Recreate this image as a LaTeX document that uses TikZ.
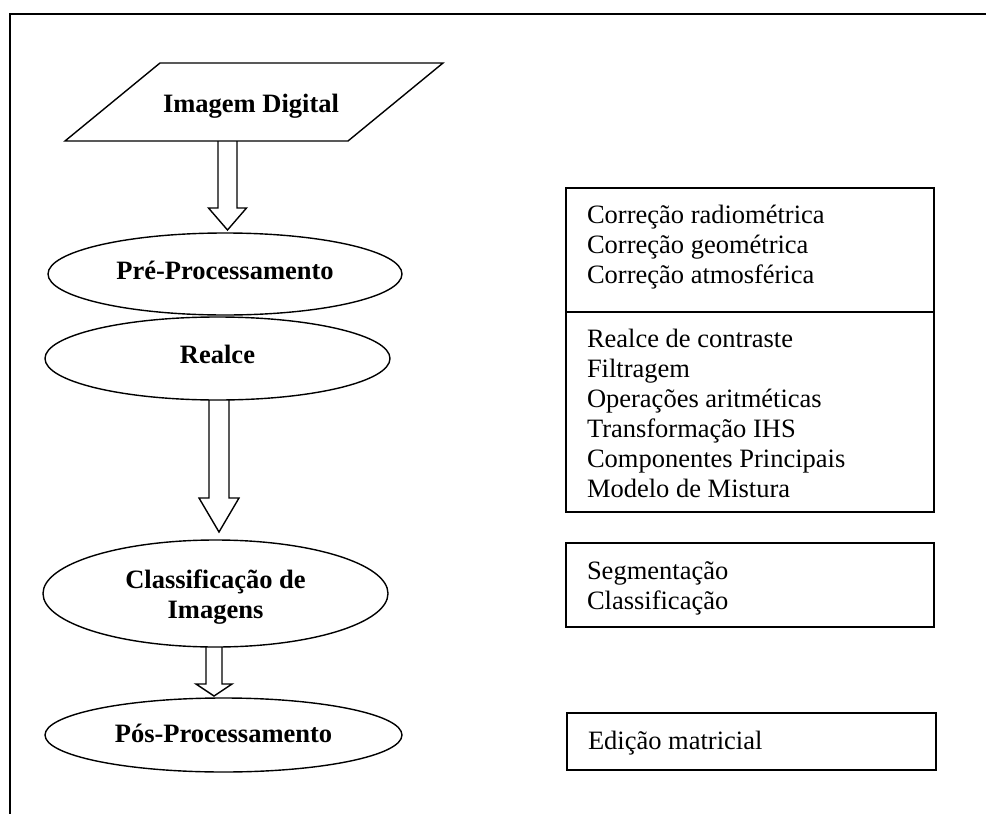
\documentclass[tikz,border=0pt]{standalone}
\usepackage{fontspec}
\setmainfont{Liberation Serif}
\usetikzlibrary{shapes.geometric,calc}
\newcommand\fatarrow[5]{%
  \draw[fat] let \p1=(#1), \p2=(#2) in
    (\x1-#3,\y1) -- (\x1-#3,\y2+#5) -- (\x1-#4,\y2+#5) -- (\x1,\y2)
    -- (\x1+#4,\y2+#5) -- (\x1+#3,\y2+#5) -- (\x1+#3,\y1);}
\begin{document}
\begin{tikzpicture}[x=1pt,y=-1pt,
  line width=1.4pt,
  every node/.style={inner sep=0pt, outer sep=0pt},
  txt/.style={font=\fontsize{26.5}{30}\selectfont, anchor=base west},
  btxt/.style={font=\fontsize{26.5}{30}\selectfont\bfseries, anchor=base},
  stage/.style={draw, ellipse},
  listbox/.style={draw, anchor=north west},
  fat/.style={draw, line width=1.4pt, line join=miter}]
\useasboundingbox (0,0) rectangle (986,814);
% frame
\draw (10,814) -- (10,14) -- (986,14);
% input parallelogram
\coordinate (p1) at (160,63);
\coordinate (p2) at (443,63);
\coordinate (p3) at (348,141);
\coordinate (p4) at (65,141);
\draw (p1) -- (p2) -- (p3) -- (p4) -- cycle;
\node[btxt] (img) at (251,112) {Imagem Digital};
% stages
\node[stage, minimum width=354, minimum height=82] (pre) at (225,274) {};
\node[btxt] (pret) at ($(pre.center)+(0,5)$) {Pré-Processamento};
\node[stage, minimum width=345, minimum height=83] (rea) at (217.5,358.5) {};
\node[btxt] (reat) at ($(rea.center)+(0,5)$) {Realce};
\node[stage, minimum width=345, minimum height=107] (cla) at (215.5,593.5) {};
\node[btxt] (clat1) at ($(cla.center)+(0,-5.5)$) {Classificação de};
\node[btxt] (clat2) at ($(cla.center)+(0,24.5)$) {Imagens};
\node[stage, minimum width=357, minimum height=74] (pos) at (223.5,735) {};
\node[btxt] (post) at ($(pos.center)+(0,7)$) {Pós-Processamento};
% block arrows
\coordinate (a1s) at (227.5,141);
\coordinate (a1t) at (227.5,230);
\coordinate (a2s) at (219,400);
\coordinate (a2t) at (219,532);
\coordinate (a3s) at (214,647);
\coordinate (a3t) at (214,696);
\fatarrow{a1s}{a1t}{9.5pt}{19pt}{22pt}
\fatarrow{a2s}{a2t}{10pt}{20pt}{34pt}
\fatarrow{a3s}{a3t}{8pt}{18pt}{12pt}
% right boxes
\node[listbox, minimum width=368, minimum height=124] (b1) at (566,188) {};
\node[listbox, minimum width=368, minimum height=200] (b2) at (566,312) {};
\node[listbox, minimum width=368, minimum height=84] (b3) at (566,543) {};
\node[listbox, minimum width=369, minimum height=57] (b4) at (567,713) {};
\node[txt] (t11) at (587,223) {Correção radiométrica};
\node[txt] (t12) at (587,253) {Correção geométrica};
\node[txt] (t13) at (587,283) {Correção atmosférica};
\node[txt] (t21) at (587,347) {Realce de contraste};
\node[txt] (t22) at (587,377) {Filtragem};
\node[txt] (t23) at (587,407) {Operações aritméticas};
\node[txt] (t24) at (587,437) {Transformação IHS};
\node[txt] (t25) at (587,467) {Componentes Principais};
\node[txt] (t26) at (587,497) {Modelo de Mistura};
\node[txt] (t31) at (587,579) {Segmentação};
\node[txt] (t32) at (587,609) {Classificação};
\node[txt] (t41) at (588,749) {Edição matricial};
\end{tikzpicture}
\end{document}
